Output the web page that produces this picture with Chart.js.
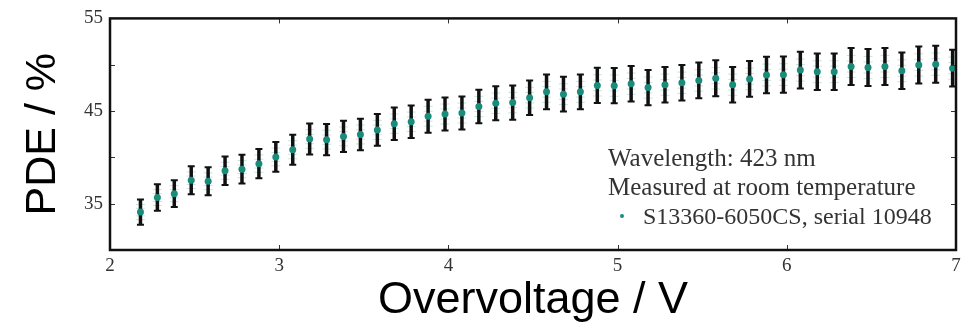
<!DOCTYPE html>
<html>
<head>
<meta charset="utf-8">
<script src="https://cdn.jsdelivr.net/npm/chart.js@4/dist/chart.umd.min.js"></script>
<style>
html,body{margin:0;padding:0;background:#fff;}
#wrap{width:974px;height:325px;position:relative;}
</style>
</head>
<body>
<div id="wrap"><canvas id="c" width="974" height="325"></canvas></div>
<script>
const overvoltage = [2.18,2.28,2.38,2.48,2.58,2.68,2.78,2.88,2.98,3.08,3.18,3.28,3.38,3.48,3.58,3.68,3.78,3.88,3.98,4.08,4.18,4.28,4.38,4.48,4.58,4.68,4.78,4.88,4.98,5.08,5.18,5.28,5.38,5.48,5.58,5.68,5.78,5.88,5.98,6.08,6.18,6.28,6.38,6.48,6.58,6.68,6.78,6.88,6.98];
const pde = [34.09,35.66,36.08,37.53,37.42,38.55,38.72,39.32,40.05,40.82,41.98,41.91,42.26,42.47,42.96,43.63,43.84,44.44,44.68,44.79,45.49,45.84,45.91,46.44,47.07,46.82,47.07,47.77,47.74,47.95,47.53,47.84,48.05,48.30,48.54,47.84,48.47,48.89,48.93,49.42,49.25,49.25,49.81,49.70,49.81,49.35,49.98,50.05,49.63];
const pdeErr = [1.36,1.43,1.44,1.50,1.50,1.54,1.55,1.57,1.60,1.63,1.68,1.68,1.69,1.70,1.72,1.75,1.75,1.78,1.79,1.79,1.82,1.83,1.84,1.86,1.88,1.87,1.88,1.91,1.91,1.92,1.90,1.91,1.92,1.93,1.94,1.91,1.94,1.96,1.96,1.98,1.97,1.97,1.99,1.99,1.99,1.97,2.00,2.00,1.99];
const xTicks = [2,3,4,5,6,7];
const yTicks = [30,35,40,45,50,55];
const yLabelled = [35,45,55];
const seriesLabel = 'S13360-6050CS, serial 10948';
const noteLines = ['Wavelength: 423 nm','Measured at room temperature'];

const points = overvoltage.map((x,i)=>({x:x,y:pde[i],e:pdeErr[i]}));

const errorBars = {
  id:'errorBars',
  beforeDatasetsDraw(chart){
    const ctx = chart.ctx, xs = chart.scales.x, ys = chart.scales.y;
    ctx.save();
    points.forEach(p=>{
      const px = xs.getPixelForValue(p.x);
      const yt = ys.getPixelForValue(p.y + p.e);
      const yb = ys.getPixelForValue(p.y - p.e);
      // faint systematic marks (behind the bar)
      ctx.strokeStyle = 'rgba(140,205,192,0.5)';
      ctx.lineWidth = 1;
      [0.3,0.6].forEach(f=>{
        const y1 = ys.getPixelForValue(p.y + p.e*f);
        const y2 = ys.getPixelForValue(p.y - p.e*f);
        ctx.beginPath();
        ctx.moveTo(px-4.5,y1); ctx.lineTo(px+4.5,y1);
        ctx.moveTo(px-4.5,y2); ctx.lineTo(px+4.5,y2);
        ctx.stroke();
      });
      ctx.strokeStyle = '#111';
      ctx.lineWidth = 3.5;
      ctx.beginPath(); ctx.moveTo(px,yt); ctx.lineTo(px,yb); ctx.stroke();
      ctx.lineWidth = 2;
      ctx.beginPath();
      ctx.moveTo(px-3.5,yt); ctx.lineTo(px+3.5,yt);
      ctx.moveTo(px-3.5,yb); ctx.lineTo(px+3.5,yb);
      ctx.stroke();
    });
    ctx.restore();
  }
};

const frame = {
  id:'frame',
  afterDraw(chart){
    const ctx = chart.ctx, a = chart.chartArea, xs = chart.scales.x, ys = chart.scales.y;
    ctx.save();
    ctx.strokeStyle = '#333';
    ctx.lineWidth = 1;
    xTicks.forEach(v=>{
      if(v===xs.min||v===xs.max) return;
      const px = Math.round(xs.getPixelForValue(v))+0.5;
      ctx.beginPath();
      ctx.moveTo(px,a.bottom); ctx.lineTo(px,a.bottom-5);
      ctx.moveTo(px,a.top); ctx.lineTo(px,a.top+5);
      ctx.stroke();
    });
    yTicks.forEach(v=>{
      if(v===ys.min||v===ys.max) return;
      const py = Math.round(ys.getPixelForValue(v))+0.5;
      ctx.beginPath();
      ctx.moveTo(a.left,py); ctx.lineTo(a.left+5,py);
      ctx.moveTo(a.right,py); ctx.lineTo(a.right-5,py);
      ctx.stroke();
    });
    ctx.strokeStyle = '#111';
    ctx.lineWidth = 2.5;
    ctx.strokeRect(a.left,a.top,a.right-a.left,a.bottom-a.top);
    // annotation + legend
    ctx.fillStyle = '#333';
    ctx.font = '25px "Liberation Serif", serif';
    ctx.textBaseline = 'alphabetic';
    ctx.textAlign = 'left';
    ctx.fillText(noteLines[0], 608, 166);
    ctx.fillText(noteLines[1], 608, 195);
    ctx.font = '24px "Liberation Serif", serif';
    ctx.fillText(seriesLabel, 643, 224);
    ctx.fillStyle = '#1a8c7a';
    ctx.beginPath(); ctx.arc(622,216,2,0,Math.PI*2); ctx.fill();
    ctx.restore();
  }
};

new Chart(document.getElementById('c'),{
  type:'scatter',
  data:{datasets:[{
    label:seriesLabel,
    data:points,
    backgroundColor:'#1a8c7a',
    borderColor:'#1a8c7a',
    borderWidth:0,
    pointRadius:3.5,
    pointHoverRadius:3.5
  }]},
  options:{
    responsive:false,
    animation:false,
    events:[],
    layout:{padding:{left:0,right:18,top:13,bottom:0}},
    plugins:{legend:{display:false},tooltip:{enabled:false}},
    scales:{
      x:{
        type:'linear',min:2,max:7,
        afterBuildTicks(s){ s.ticks = xTicks.map(v=>({value:v})); },
        afterFit(s){ s.height = 75; },
        grid:{display:false,drawTicks:false},
        border:{display:false},
        ticks:{padding:5,color:'#333',font:{family:'"Liberation Serif", serif',size:19},callback:v=>String(v),maxRotation:0,autoSkip:false},
        title:{display:true,text:'Overvoltage / V',color:'#000',font:{family:'Arial, "Liberation Sans", sans-serif',size:45,lineHeight:1.2},padding:{top:0,bottom:-3}}
      },
      y:{
        type:'linear',min:30,max:55,
        afterBuildTicks(s){ s.ticks = yTicks.map(v=>({value:v})); },
        afterFit(s){ s.width = 110; },
        grid:{display:false,drawTicks:false},
        border:{display:false},
        ticks:{padding:7,color:'#333',font:{family:'"Liberation Serif", serif',size:19},callback:v=>yLabelled.includes(v)?String(v):'',autoSkip:false},
        title:{display:true,text:'PDE / %',color:'#000',font:{family:'Arial, "Liberation Sans", sans-serif',size:43,lineHeight:1.2},padding:{top:17,bottom:0}}
      }
    }
  },
  plugins:[errorBars,frame]
});
</script>
</body>
</html>
